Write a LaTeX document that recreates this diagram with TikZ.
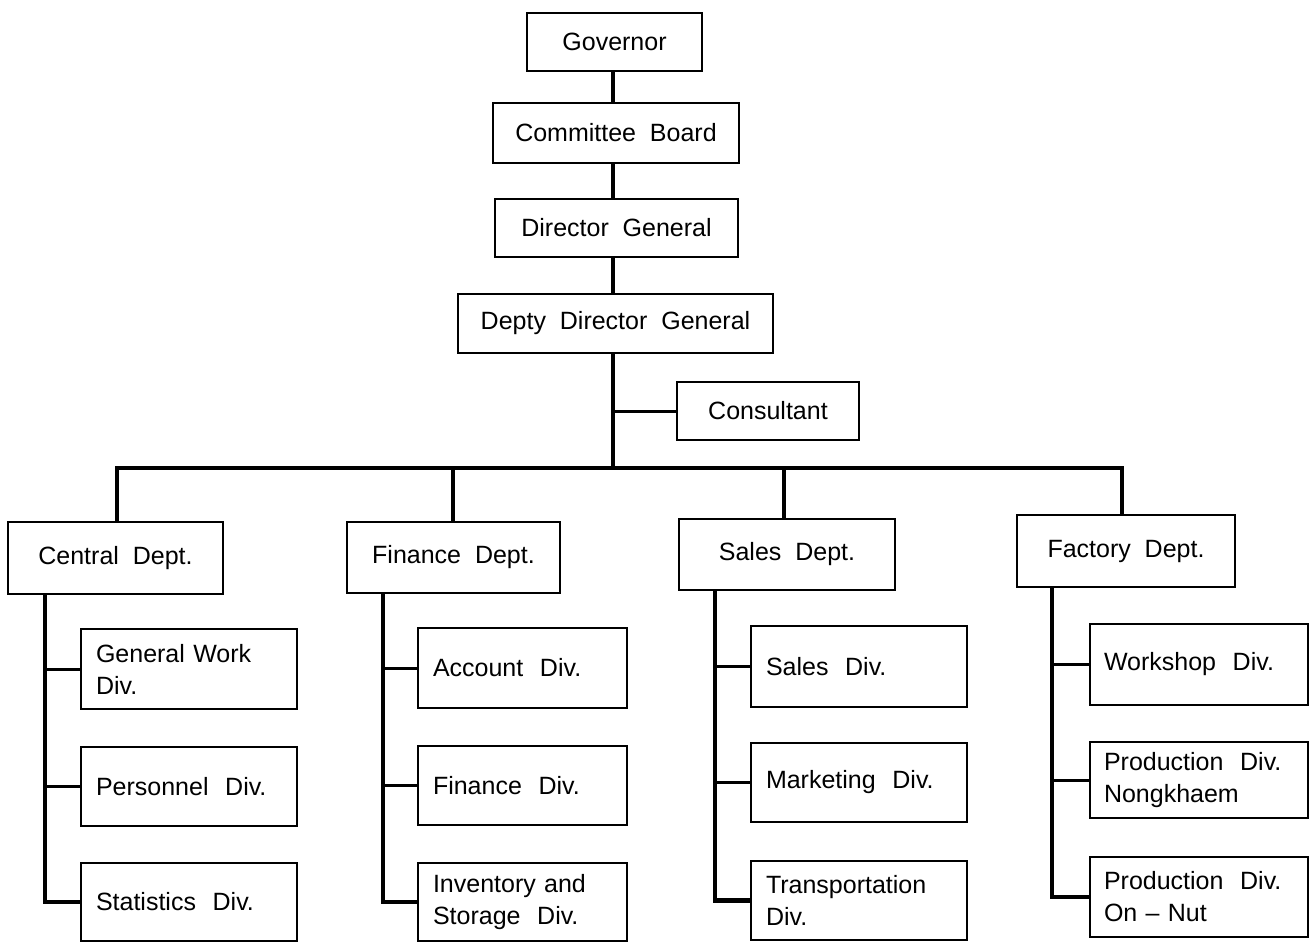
\documentclass[tikz,border=0pt]{standalone}
\usepackage{fontspec}
\setmainfont{Liberation Sans}
\begin{document}
\begin{tikzpicture}[x=1pt,y=-1pt,
  box/.style={draw,line width=2pt,inner sep=0pt,align=center,font=\fontsize{25}{32}\selectfont},
  sub/.style={box,align=left},
  conn/.style={line width=4.5pt},
  thinconn/.style={line width=3pt}]
\useasboundingbox (0,0) rectangle (1312,943);
\fill[white] (0,0) rectangle (1312,943);

% top chain
\node[box,minimum width=175pt,minimum height=58pt] (gov) at (614.5,42) {Governor};
\node[box,minimum width=246pt,minimum height=60pt] (cb) at (616,133) {Committee\ \ Board};
\node[box,minimum width=243pt,minimum height=58pt] (dg) at (616.5,228) {Director\ \ General};
\node[box,minimum width=315pt,minimum height=59pt] (ddg) at (615.5,323.5) {Depty\ \ Director\ \ General};
\node[box,minimum width=182pt,minimum height=58pt] (cons) at (768,411) {Consultant};

% departments
\node[box,minimum width=215pt,minimum height=72pt] (cen) at (115.5,558) {Central\ \ Dept.};
\node[box,minimum width=213pt,minimum height=71pt] (fin) at (453.5,557.5) {Finance\ \ Dept.};
\node[box,minimum width=216pt,minimum height=71pt] (sal) at (787,554.5) {Sales\ \ Dept.};
\node[box,minimum width=218pt,minimum height=72pt] (fac) at (1126,551) {Factory\ \ Dept.};

% central divisions
\node[sub,minimum width=216pt,minimum height=80pt,text width=186pt] (c1) at (189,669) {General Work\\Div.};
\node[sub,minimum width=216pt,minimum height=79pt,text width=186pt] (c2) at (189,786.5) {Personnel\ \ Div.};
\node[sub,minimum width=216pt,minimum height=78pt,text width=186pt] (c3) at (189,902) {Statistics\ \ Div.};
% finance divisions
\node[sub,minimum width=209pt,minimum height=80pt,text width=179pt] (f1) at (522.5,668) {Account\ \ Div.};
\node[sub,minimum width=209pt,minimum height=79pt,text width=179pt] (f2) at (522.5,785.5) {Finance\ \ Div.};
\node[sub,minimum width=209pt,minimum height=78pt,text width=179pt] (f3) at (522.5,902) {Inventory and\\Storage\ \ Div.};
% sales divisions
\node[sub,minimum width=216pt,minimum height=81pt,text width=186pt] (s1) at (859,666.5) {Sales\ \ Div.};
\node[sub,minimum width=216pt,minimum height=79pt,text width=186pt] (s2) at (859,782.5) {Marketing\ \ Div.};
\node[sub,minimum width=216pt,minimum height=79pt,text width=186pt] (s3) at (859,900.5) {Transportation\\Div.};
% factory divisions
\node[sub,minimum width=218pt,minimum height=81pt,text width=190pt] (p1) at (1199,664.5) {Workshop\ \ Div.};
\node[sub,minimum width=218pt,minimum height=76pt,text width=190pt] (p2) at (1199,780) {Production\ \ Div.\\Nongkhaem};
\node[sub,minimum width=218pt,minimum height=80pt,text width=190pt] (p3) at (1199,897) {Production\ \ Div.\\On -- Nut};

% coordinates
\coordinate (trunk) at (613,0);
\coordinate (busL) at (117,468);
\coordinate (busR) at (1122,468);
\coordinate (d2) at (453,468);
\coordinate (d3) at (784,468);
\coordinate (cv) at (45,0);
\coordinate (fv) at (383,0);
\coordinate (sv) at (715,0);
\coordinate (pv) at (1052,0);

% trunk
\draw[conn] (trunk |- gov.south) -- (trunk |- cb.north);
\draw[conn] (trunk |- cb.south) -- (trunk |- dg.north);
\draw[conn] (trunk |- dg.south) -- (trunk |- ddg.north);
\draw[conn] (trunk |- ddg.south) -- (trunk |- busL);
\draw[thinconn] (trunk |- cons.west) -- (cons.west);

% bus
\draw[conn] (busL |- cen.north) |- (busR) -- (busR |- fac.north);
\draw[conn] (d2) -- (d2 |- fin.north);
\draw[conn] (d3) -- (d3 |- sal.north);

% division branches
\draw[conn] (cv |- cen.south) |- (c3.west);
\draw[thinconn] (cv |- c1.west) -- (c1.west);
\draw[thinconn] (cv |- c2.west) -- (c2.west);

\draw[conn] (fv |- fin.south) |- (f3.west);
\draw[thinconn] (fv |- f1.west) -- (f1.west);
\draw[thinconn] (fv |- f2.west) -- (f2.west);

\draw[conn] (sv |- sal.south) |- (s3.west);
\draw[thinconn] (sv |- s1.west) -- (s1.west);
\draw[thinconn] (sv |- s2.west) -- (s2.west);

\draw[conn] (pv |- fac.south) |- (p3.west);
\draw[thinconn] (pv |- p1.west) -- (p1.west);
\draw[thinconn] (pv |- p2.west) -- (p2.west);
\end{tikzpicture}
\end{document}
